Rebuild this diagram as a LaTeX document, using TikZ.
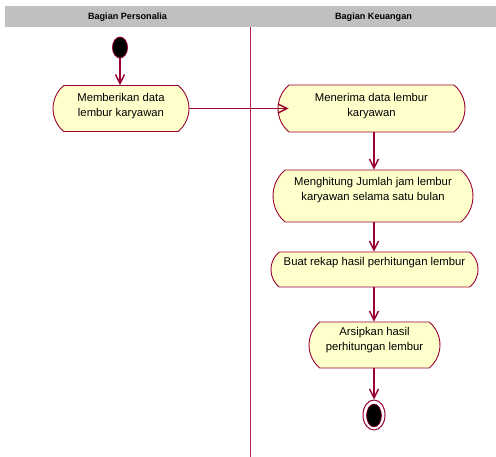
\documentclass[tikz,border=0pt]{standalone}
\usepackage{fontspec}
\setmainfont{Liberation Sans}
\usetikzlibrary{shapes.misc,shapes.geometric,arrows.meta}
\definecolor{umlred}{RGB}{153,0,51}
\definecolor{lanered}{RGB}{180,30,90}
\definecolor{actfill}{RGB}{255,255,204}
\definecolor{headgray}{RGB}{192,192,192}

\begin{document}
\begin{tikzpicture}[x=1pt,y=-1pt,
  activity/.style={rounded rectangle, rounded rectangle arc length=100,
    draw=umlred, line width=0.9pt, fill=actfill, inner sep=0pt},
  acttext/.style={font=\fontsize{11.3}{15}\selectfont, align=center, inner sep=0pt},
  flow/.style={draw=umlred, line width=1.4pt, -{Straight Barb[length=9pt,width=9pt]}},
  lanehead/.style={font=\fontsize{9.1}{11}\selectfont\bfseries, inner sep=0pt},
  initial/.style={ellipse, fill=black, draw=umlred, line width=0.8pt,
    minimum width=15pt, minimum height=21pt, inner sep=0pt},
  finalring/.style={ellipse, fill=white, draw=umlred, line width=1pt,
    minimum width=22pt, minimum height=30pt, inner sep=0pt},
  finaldot/.style={ellipse, fill=black, draw=umlred, line width=0.6pt,
    minimum width=15pt, minimum height=23pt, inner sep=0pt}
]
\useasboundingbox (0,0) rectangle (496,457);

% swimlane header and divider
\fill[headgray] (5,6) rectangle (496,27);
\node[lanehead] (h1) at (127.5,17) {Bagian Personalia};
\node[lanehead] (h2) at (373.5,17) {Bagian Keuangan};
\draw[lanered, line width=1pt] (250.5,27) -- (250.5,457);

% start state
\node[initial] (s) at (120,47.5) {};

% activities
\node[activity, minimum width=136pt, minimum height=46pt] (a1) at (121,108.5) {};
\node[acttext] (t1) at (121,106) {Memberikan data\\lembur karyawan};

\node[activity, minimum width=187pt, minimum height=47pt] (a2) at (371.5,108.5) {};
\node[acttext] (t2) at (371.5,105.7) {Menerima data lembur\\karyawan};

\node[activity, minimum width=200pt, minimum height=52pt] (a3) at (373,196) {};
\node[acttext] (t3) at (373,190) {Menghitung Jumlah jam lembur\\karyawan selama satu bulan};

\node[activity, minimum width=207pt, minimum height=35pt] (a4) at (374.5,269.5) {};
\node[acttext] (t4) at (374.5,263) {Buat rekap hasil perhitungan lembur};

\node[activity, minimum width=131pt, minimum height=46pt] (a5) at (374.5,345) {};
\node[acttext] (t5) at (374.5,340.5) {Arsipkan hasil\\perhitungan lembur};

% final state
\node[finalring] (e) at (374,415) {};
\node[finaldot] (ed) at (374,415.5) {};

% control flows
\draw[flow] (s.south) -- (s.south |- a1.north);
\draw[flow] (a1.east) -- ([xshift=11pt]a2.west);
\draw[flow] (a2.south -| 374,0) -- (a3.north -| 374,0);
\draw[flow] (a3.south -| 374,0) -- (a4.north -| 374,0);
\draw[flow] (a4.south -| 374,0) -- (a5.north -| 374,0);
\draw[flow] (a5.south -| e.north) -- (e.north);
\end{tikzpicture}
\end{document}
